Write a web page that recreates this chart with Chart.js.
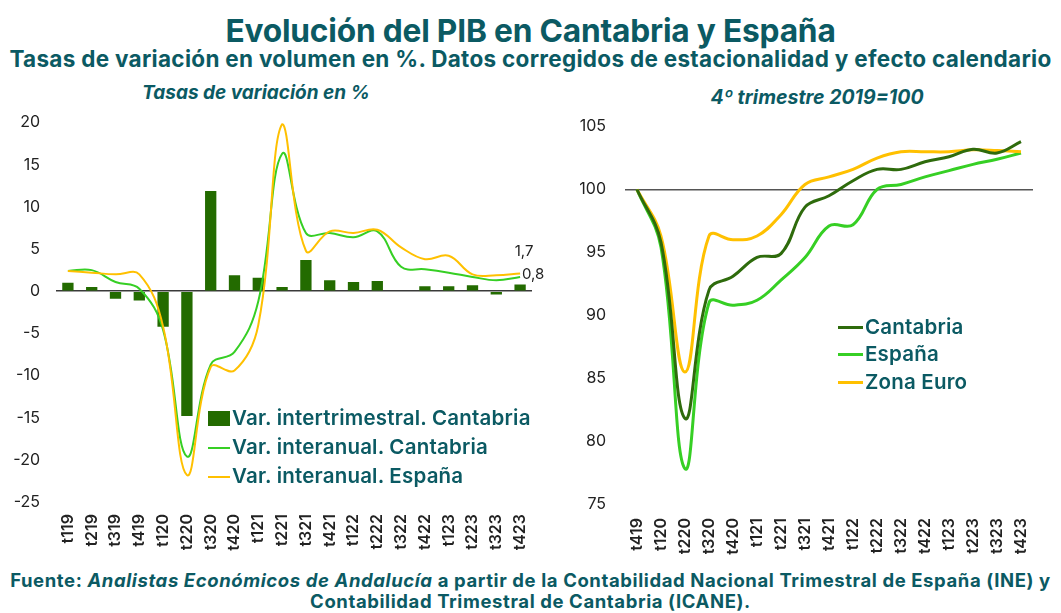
<!DOCTYPE html>
<html>
<head>
<meta charset="utf-8">
<script src="https://cdn.jsdelivr.net/npm/chart.js@4.4.1/dist/chart.umd.min.js"></script>
<style>
  body { margin: 0; background: #fff; width: 1061px; height: 613px; position: relative; overflow: hidden; font-family: Inter, sans-serif; color: #0b5a63; }
  .txt { position: absolute; white-space: nowrap; font-weight: 700; }
  #title { left: 0; width: 1061px; top: 11px; text-align: center; font-size: 31.7px; letter-spacing: -0.2px; }
  #sub { left: 0; width: 1061px; top: 45px; text-align: center; font-size: 22.5px; letter-spacing: 0.3px; }
  #subL { left: 0; width: 512px; top: 81px; text-align: center; font-size: 19px; font-style: italic; }
  #subR { left: 560px; width: 514px; top: 85px; text-align: center; font-size: 19.5px; font-style: italic; }
  #foot { left: 0; width: 1061px; top: 570px; text-align: center; font-size: 18.5px; line-height: 21px; letter-spacing: 0.6px; }
  .box { position: absolute; }
  .leg { position: absolute; font-size: 20.5px; font-weight: 600; color: #0b5a63; white-space: nowrap; line-height: 24px; letter-spacing: 0.2px; }
  .sw { position: absolute; }
</style>
</head>
<body>
<div class="txt" id="title">Evolución del PIB en Cantabria y España</div>
<div class="txt" id="sub">Tasas de variación en volumen en %. Datos corregidos de estacionalidad y efecto calendario</div>
<div class="txt" id="subL">Tasas de variación en %</div>
<div class="txt" id="subR">4º trimestre 2019=100</div>

<div class="box" style="left:0;top:97px;width:545px;height:463px"><canvas id="myChart1" width="545" height="463"></canvas></div>
<div class="box" style="left:560px;top:98px;width:500px;height:462px"><canvas id="myChart2" width="500" height="462"></canvas></div>

<!-- leyenda izquierda -->
<div class="sw" style="left:208px;top:411px;width:22px;height:15px;background:#236b00"></div>
<div class="leg" style="left:232px;top:406px">Var. intertrimestral. Cantabria</div>
<div class="sw" style="left:208px;top:447px;width:22px;height:2px;background:#36cf24"></div>
<div class="leg" style="left:232px;top:435px">Var. interanual. Cantabria</div>
<div class="sw" style="left:208px;top:476px;width:22px;height:2px;background:#ffc000"></div>
<div class="leg" style="left:232px;top:464px">Var. interanual. España</div>

<!-- leyenda derecha -->
<div class="sw" style="left:838px;top:326px;width:25px;height:3px;background:#2e6b0c"></div>
<div class="leg" style="left:865px;top:315px">Cantabria</div>
<div class="sw" style="left:838px;top:353px;width:25px;height:3px;background:#36cf24"></div>
<div class="leg" style="left:865px;top:342px">España</div>
<div class="sw" style="left:838px;top:381px;width:25px;height:3px;background:#ffc000"></div>
<div class="leg" style="left:865px;top:370px">Zona Euro</div>

<div class="txt" id="foot">Fuente: <i>Analistas Económicos de Andalucía</i> a partir de la Contabilidad Nacional Trimestral de España (INE) y<br>Contabilidad Trimestral de Cantabria (ICANE).</div>

<script>
	// datos grafico 1 (tasas de variacion)
	var trimestres1 = ['t119', 't219', 't319', 't419', 't120', 't220', 't320', 't420', 't121', 't221',
			't321', 't421', 't122', 't222', 't322', 't422', 't123', 't223', 't323', 't423'];
	var interTrimCantabria = [1.0, 0.5, -0.9, -1.1, -4.2, -14.8, 11.9, 1.9, 1.6, 0.5,
			3.7, 1.3, 1.1, 1.2, null, 0.6, 0.6, 0.7, -0.4, 0.8];
	var interAnualCantabria = [2.4, 2.5, 1.1, 0.3, -4.6, -19.6, -8.7, -7.2, -1.2, 16.3,
			6.9, 6.9, 6.4, 7.1, 2.9, 2.6, 2.2, 1.7, 1.3, 1.7];
	var interAnualEspana = [2.4, 2.2, 2.0, 2.0, -4.2, -21.8, -9.0, -9.4, -4.0, 19.8,
			4.8, 7.1, 6.9, 7.3, 5.2, 3.8, 4.2, 2.0, 1.9, 2.1];
	var ticks1 = [-25, -20, -15, -10, -5, 0, 5, 10, 15, 20];

	// datos grafico 2 (indice 4T2019=100)
	var trimestres2 = ['t419', 't120', 't220', 't320', 't420', 't121', 't221', 't321', 't421',
			't122', 't222', 't322', 't422', 't123', 't223', 't323', 't423'];
	var indiceCantabria = [100, 95.8, 81.8, 92.0, 93.1, 94.6, 94.9, 98.6, 99.5,
			100.7, 101.6, 101.6, 102.2, 102.6, 103.2, 102.9, 103.8];
	var indiceEspana = [100, 95.4, 77.8, 91.0, 90.8, 91.2, 92.8, 94.6, 97.1,
			97.2, 100.0, 100.4, 101.0, 101.5, 102.0, 102.4, 102.9];
	var indiceZonaEuro = [100, 96.3, 85.5, 96.3, 96.0, 96.3, 98.0, 100.4, 101.0,
			101.6, 102.5, 103.0, 103.0, 103.0, 103.15, 103.1, 103.0];
	var ticks2 = [75, 80, 85, 90, 95, 100, 105];

	var tickFont = { family : 'Inter', size : 16 };
	var xFont = { family : 'Inter', size : 16, weight : '600' };

	// etiquetas del ultimo dato (1,7 y 0,8)
	var ultimoDato = {
		id : 'ultimoDato',
		afterDatasetsDraw : function(chart) {
			var c = chart.ctx;
			c.save();
			c.font = '15px Inter';
			c.fillStyle = '#222';
			c.textAlign = 'center';
			c.textBaseline = 'middle';
			var n = trimestres1.length - 1;
			var pl = chart.getDatasetMeta(1).data[n];
			c.fillText(interAnualCantabria[n].toFixed(1).replace('.', ','), pl.x + 4, pl.y - 25);
			var pb = chart.getDatasetMeta(0).data[n];
			c.fillText(interTrimCantabria[n].toFixed(1).replace('.', ','), pb.x + 13, pb.y - 10);
			c.restore();
		}
	};

	// Grafico 1
	var ctx = document.getElementById('myChart1');
	var myChart = new Chart(ctx, {
		type : 'bar',
		data : {
			labels : trimestres1,
			datasets : [ {
				type : 'bar',
				label : 'Var. intertrimestral. Cantabria',
				data : interTrimCantabria,
				backgroundColor : '#236b00',
				barPercentage : 0.5,
				categoryPercentage : 0.95,
				order : 3
			}, {
				type : 'line',
				label : 'Var. interanual. Cantabria',
				data : interAnualCantabria,
				borderColor : '#36cf24',
				borderWidth : 2,
				tension : 0.4,
				pointRadius : 0,
				order : 2
			}, {
				type : 'line',
				label : 'Var. interanual. España',
				data : interAnualEspana,
				borderColor : '#ffc000',
				borderWidth : 2,
				tension : 0.4,
				pointRadius : 0,
				order : 1
			} ]
		},
		options : {
			responsive : false,
			animation : false,
			layout : { padding : { top : 0, right : 13, left : 0, bottom : 0 } },
			plugins : { legend : { display : false }, tooltip : { enabled : false } },
			scales : {
				x : {
					offset : true,
					grid : { display : false },
					border : { display : false },
					ticks : { color : '#222', font : xFont, minRotation : 90, maxRotation : 90, padding : 4, autoSkip : false },
					afterFit : function(s) { s.height = 58; }
				},
				y : {
					min : -25,
					max : 20,
					afterBuildTicks : function(s) { s.ticks = ticks1.map(function(v) { return { value : v }; }); },
					grid : {
						drawTicks : false,
						lineWidth : 1.5,
						color : function(c) { return c.tick && c.tick.value === 0 ? '#3a3a3a' : 'rgba(0,0,0,0)'; }
					},
					border : { display : false },
					ticks : { color : '#222', font : tickFont, padding : 16 },
					afterFit : function(s) { s.width = 56; }
				}
			}
		},
		plugins : [ ultimoDato ]
	});

	// Grafico 2
	var ctx = document.getElementById('myChart2');
	var myChart = new Chart(ctx, {
		type : 'line',
		data : {
			labels : trimestres2,
			datasets : [ {
				label : 'Cantabria',
				data : indiceCantabria,
				borderColor : '#2e6b0c',
				borderWidth : 3,
				tension : 0.4,
				pointRadius : 0,
				order : 1
			}, {
				label : 'España',
				data : indiceEspana,
				borderColor : '#36cf24',
				borderWidth : 3,
				tension : 0.4,
				pointRadius : 0,
				order : 3
			}, {
				label : 'Zona Euro',
				data : indiceZonaEuro,
				borderColor : '#ffc000',
				borderWidth : 3,
				tension : 0.4,
				pointRadius : 0,
				order : 2
			} ]
		},
		options : {
			responsive : false,
			animation : false,
			layout : { padding : { top : 3, right : 27, left : 0, bottom : 0 } },
			plugins : { legend : { display : false }, tooltip : { enabled : false } },
			scales : {
				x : {
					offset : true,
					grid : { display : false },
					border : { display : false },
					ticks : { color : '#222', font : xFont, minRotation : 90, maxRotation : 90, padding : 6, autoSkip : false },
					afterFit : function(s) { s.height = 56; }
				},
				y : {
					min : 75,
					max : 105,
					afterBuildTicks : function(s) { s.ticks = ticks2.map(function(v) { return { value : v }; }); },
					grid : {
						drawTicks : false,
						lineWidth : 1.5,
						color : function(c) { return c.tick && c.tick.value === 100 ? '#555' : 'rgba(0,0,0,0)'; }
					},
					border : { display : false },
					ticks : { color : '#222', font : tickFont, padding : 19 },
					afterFit : function(s) { s.width = 65; }
				}
			}
		}
	});
</script>
</body>
</html>
